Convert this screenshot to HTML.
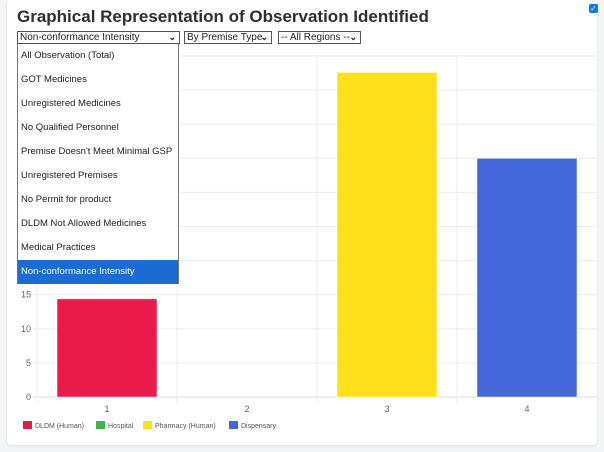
<!DOCTYPE html>
<html><head><meta charset="utf-8"><style>
body{margin:0;width:604px;height:452px;background:#f4f5f7;font-family:"Liberation Sans",Arial,sans-serif;position:relative;overflow:hidden}
.card{position:absolute;left:7px;top:0;width:590px;height:445px;background:#fff;border-radius:4px;box-shadow:0 1px 2px rgba(0,0,0,.1)}
h1{position:absolute;left:17px;top:7px;margin:0;font-size:17px;font-weight:bold;color:#2b2f33}
.sel{position:absolute;top:31px;height:11px;border:1px solid #555;font-size:10px;line-height:11px;color:#222;padding-left:2px;background:#fff}
.sel span{position:absolute;right:3px;top:0;font-size:9px;font-weight:bold}
.list{position:absolute;left:17px;top:44px;width:160px;height:239px;border:1px solid #777;border-top:none;background:#fff;font-size:9.5px;color:#222}
.list div{height:24px;line-height:24px;padding-left:3px}
.list div.on{background:#1a6bd4;color:#fff}
.cb{position:absolute;left:589px;top:4px;width:9px;height:9px;background:#1a73e8;border-radius:2px;color:#fff;font-size:8px;line-height:9px;text-align:center}
</style></head><body>
<div class="card"></div>
<div class="cb">✓</div>
<h1>Graphical Representation of Observation Identified</h1>
<svg id="chart" width="604" height="452" style="position:absolute;left:0;top:0"></svg>
<div class="sel" style="left:17px;width:159px">Non-conformance Intensity<span>⌄</span></div>
<div class="sel" style="left:184px;width:84px">By Premise Type<span>⌄</span></div>
<div class="sel" style="left:278px;width:79px">-- All Regions --<span>⌄</span></div>
<div class="list">
<div>All Observation (Total)</div>
<div>GOT Medicines</div>
<div>Unregistered Medicines</div>
<div>No Qualified Personnel</div>
<div>Premise Doesn't Meet Minimal GSP</div>
<div>Unregistered Premises</div>
<div>No Permit for product</div>
<div>DLDM Not Allowed Medicines</div>
<div>Medical Practices</div>
<div class="on">Non-conformance Intensity</div>
</div>
<script>
const categories=["1","2","3","4"];
const seriesNames=["DLDM (Human)","Hospital","Pharmacy (Human)","Dispensary"];
const seriesValues=[14.4,0,47.6,35];
const colors=["#e81b4b","#3cb54a","#ffe01a","#4366d8"];
const yTicks=[0,5,10,15,20,25,30,35,40,45,50];
const NS="http://www.w3.org/2000/svg";
const svg=document.getElementById('chart');
const L=37,R=597,T=56,B=397,yMax=50;
const y=v=>B-(v/yMax)*(B-T);
const bw=(R-L)/categories.length;
const x=i=>L+bw*i;
function mk(t,a){const e=document.createElementNS(NS,t);for(const k in a)e.setAttribute(k,a[k]);svg.appendChild(e);return e;}
yTicks.forEach(v=>{
 const g=mk('line',{x1:L-4,x2:R,y1:y(v),y2:y(v),stroke:v==0?'#ddd':'#ececec'});
 
 
 const t=mk('text',{x:L-6,y:y(v)+3,'text-anchor':'end','font-size':9,fill:'#666','font-family':'Liberation Sans'});
 t.textContent=v;
 
 
});
for(let i=0;i<categories.length;i++){
 const g=mk('line',{x1:x(i),x2:x(i),y1:T,y2:B+5,stroke:'#ececec'});
 
 
}
categories.forEach((c,i)=>{
 const t=mk('text',{x:x(i)+bw/2,y:B+15,'text-anchor':'middle','font-size':9,fill:'#666','font-family':'Liberation Sans'});
 t.textContent=c;
 
 
 const v=seriesValues[i];
 if(v>0){
  const r=mk('rect',{x:x(i)+bw*0.143,width:bw*0.714,y:y(v),height:B-y(v),fill:colors[i],stroke:'rgba(255,255,255,.5)'});
  
  
 }
});
let lx=23;
const widths=[73,47,86,60];
seriesNames.forEach((n,i)=>{
 const r=mk('rect',{x:lx,y:421,width:9,height:8,fill:colors[i]});
 
 
 const t=mk('text',{x:lx+12,y:428,'font-size':7,fill:'#555','font-family':'Liberation Sans'});
 t.textContent=n;
 
 
 lx+=widths[i];
});
</script>
</body></html>
